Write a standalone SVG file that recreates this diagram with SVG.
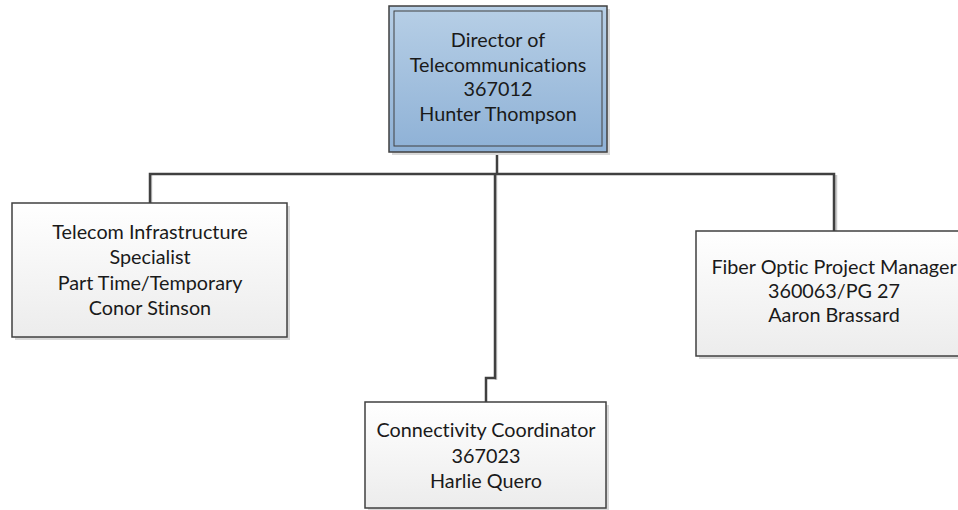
<svg xmlns="http://www.w3.org/2000/svg" width="958" height="510" viewBox="0 0 958 510">
  <defs>
    <linearGradient id="gBlue" x1="0" y1="0" x2="0" y2="1">
      <stop offset="0" stop-color="#b7cfe6"/>
      <stop offset="1" stop-color="#8eb1d6"/>
    </linearGradient>
    <linearGradient id="gGray" x1="0" y1="0" x2="0" y2="1">
      <stop offset="0" stop-color="#ffffff"/>
      <stop offset="1" stop-color="#ececec"/>
    </linearGradient>
  </defs>
  <style>
    .shadow { fill: #d9d9d9; }
    .box { fill: url(#gGray); stroke: #404040; stroke-width: 1.5; }
    .boxBlue { fill: url(#gBlue); stroke: #404040; stroke-width: 1.5; }
    .inner { fill: none; stroke: #404040; stroke-width: 1; }
    .label { font-family: Lato, "Open Sans", "Liberation Sans", sans-serif; font-size: 19.8px; fill: #1a1a1a; text-anchor: middle; font-variant-ligatures: none; }
    .wire { fill: none; stroke: #404040; stroke-width: 2.5; stroke-linejoin: miter; }
    .wireShadow { fill: none; stroke: #c8c8c8; stroke-width: 2.5; }
  </style>

  <!-- connectors -->
  <g id="connectors">
    <path class="wireShadow" d="M151 175 V204 M836 175 V232 M496 175 V380"/>
    <path class="wire" d="M497 152 V174 M150 203 V174 H834 V231 M495 174 V378 H486 V402"/>
  </g>

  <!-- top node -->
  <g id="director">
    <rect class="shadow" x="392" y="9" width="218" height="146"/>
    <rect class="boxBlue" x="389" y="6" width="218" height="146"/>
    <rect class="inner" x="394" y="11" width="208" height="135"/>
    <text class="label" x="498" y="47">Director of</text>
    <text class="label" x="498" y="72">Telecommunications</text>
    <text class="label" x="498" y="96">367012</text>
    <text class="label" x="498" y="121">Hunter Thompson</text>
  </g>

  <g id="telecom-specialist">
    <rect class="shadow" x="15" y="206" width="275" height="134"/>
    <rect class="box" x="12" y="203" width="275" height="134"/>
    <text class="label" x="150" y="239">Telecom Infrastructure</text>
    <text class="label" x="150" y="264">Specialist</text>
    <text class="label" x="150" y="290">Part Time/Temporary</text>
    <text class="label" x="150" y="315">Conor Stinson</text>
  </g>

  <g id="fiber-manager">
    <rect class="shadow" x="699" y="234" width="276" height="125"/>
    <rect class="box" x="696" y="231" width="276" height="125"/>
    <text class="label" x="834" y="274">Fiber Optic Project Manager</text>
    <text class="label" x="834" y="298">360063/PG 27</text>
    <text class="label" x="834" y="322">Aaron Brassard</text>
  </g>

  <g id="connectivity-coordinator">
    <rect class="shadow" x="368" y="405" width="241" height="106"/>
    <rect class="box" x="365" y="402" width="241" height="106"/>
    <text class="label" x="486" y="437">Connectivity Coordinator</text>
    <text class="label" x="486" y="463">367023</text>
    <text class="label" x="486" y="488">Harlie Quero</text>
  </g>
</svg>
